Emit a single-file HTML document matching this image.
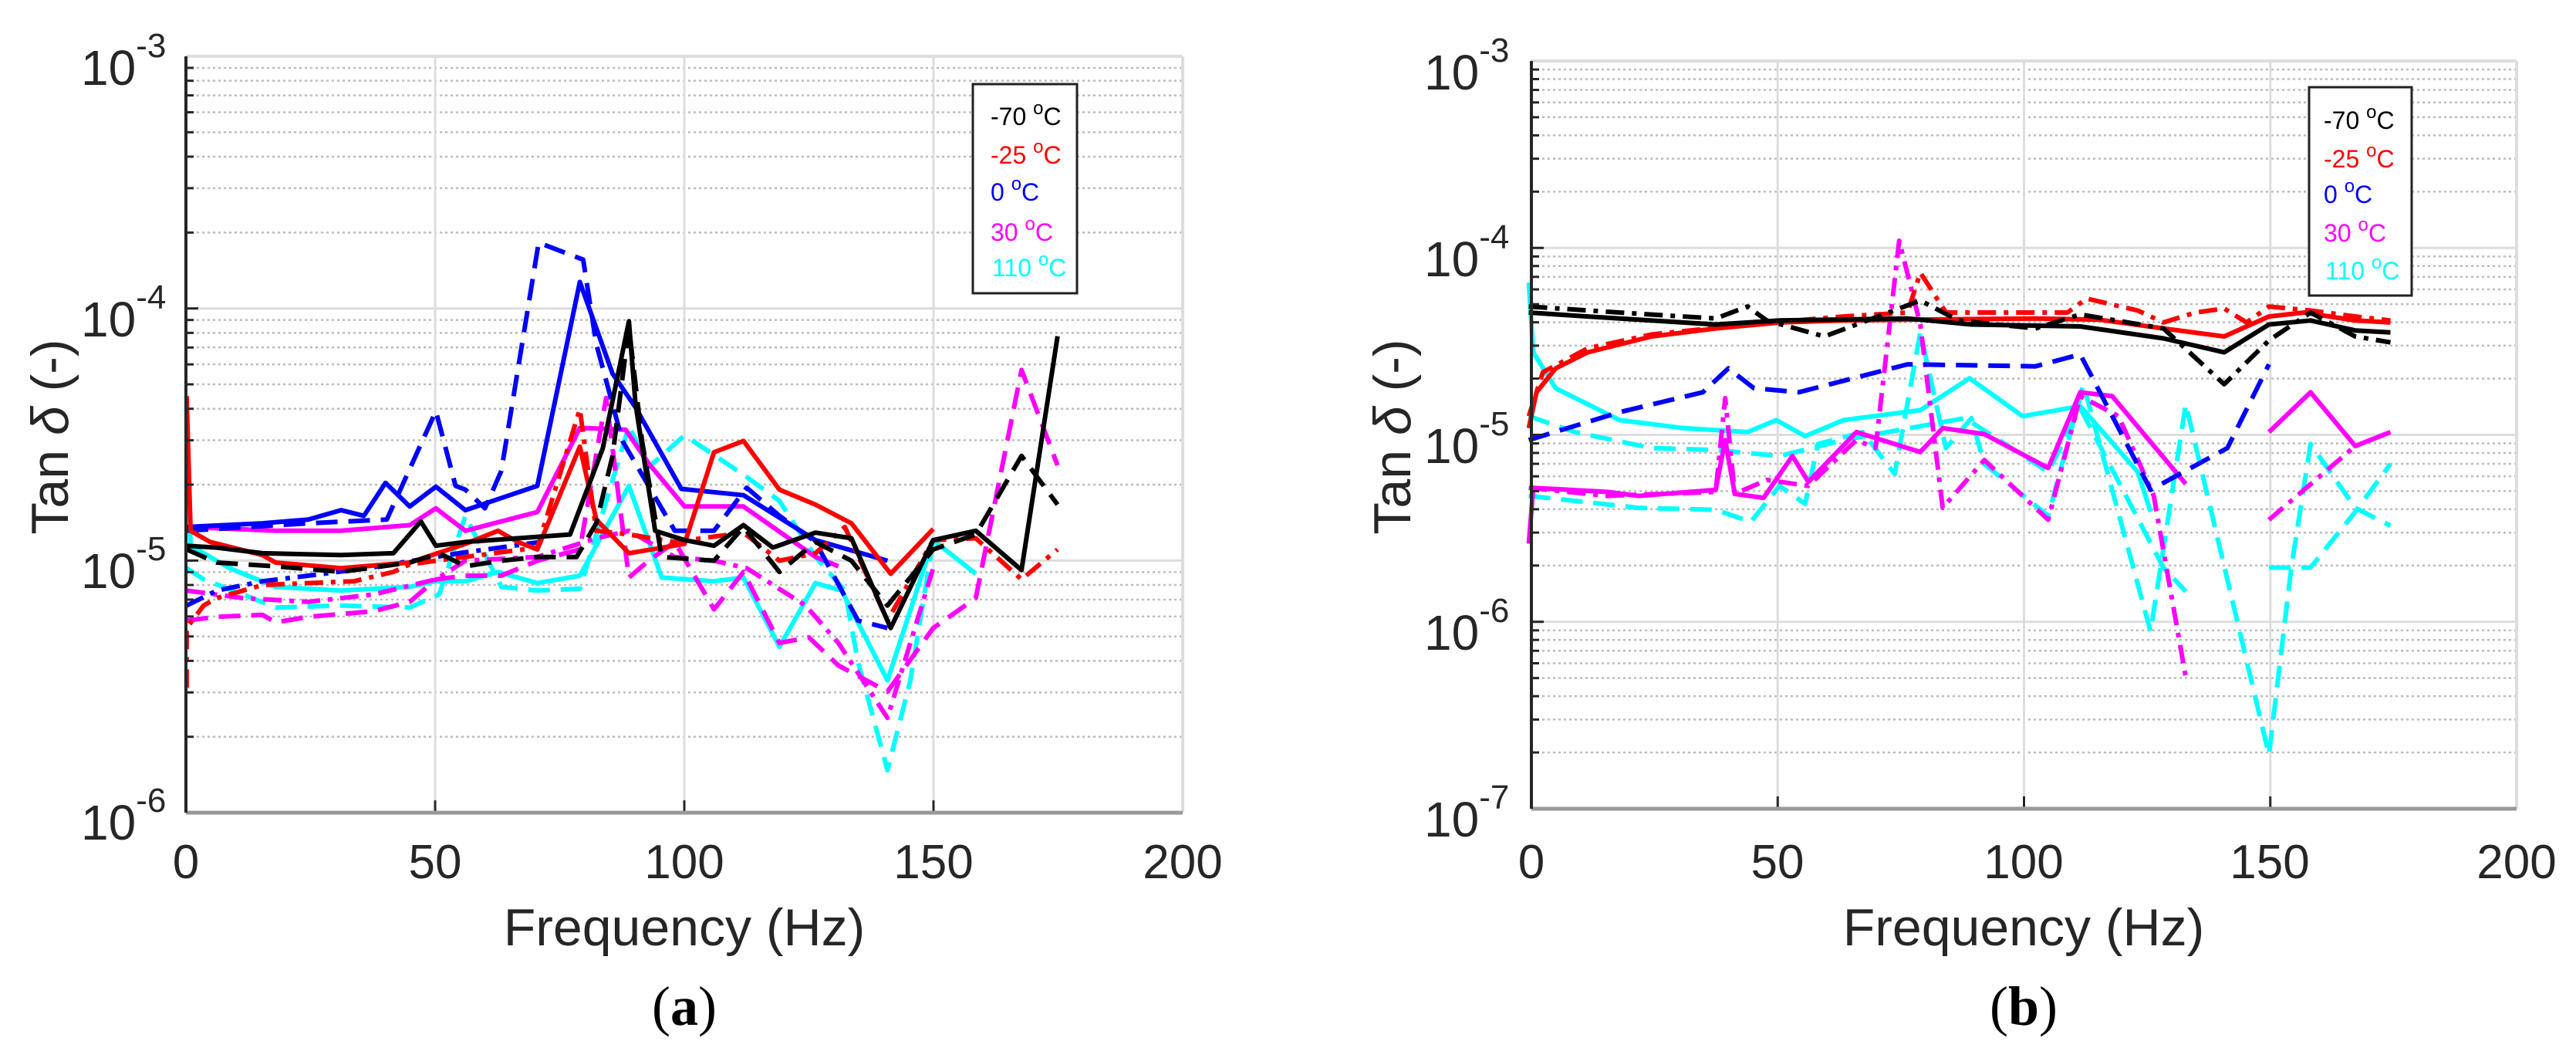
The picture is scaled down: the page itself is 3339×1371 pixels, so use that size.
<!DOCTYPE html>
<html><head><meta charset="utf-8"><style>
html,body{margin:0;padding:0;background:#fff;}
svg{display:block;font-family:"Liberation Sans",sans-serif;}
</style></head><body>
<svg id="s" width="3339" height="1371" viewBox="0 0 3339 1371" xmlns="http://www.w3.org/2000/svg">
<g id="grid"></g>
<g id="lines" fill="none" stroke-width="6" stroke-linejoin="round"></g>
<g id="axes"></g>
<!-- Left legend -->
<rect x="1261" y="109" width="135" height="271" fill="#fff" stroke="#222" stroke-width="3"/>
<g font-size="32">
<text x="1284" y="162" fill="#000">-70 <tspan dy="-14" font-size="24">o</tspan><tspan dy="14">C</tspan></text>
<text x="1284" y="212" fill="#f00">-25 <tspan dy="-14" font-size="24">o</tspan><tspan dy="14">C</tspan></text>
<text x="1284" y="260" fill="#00f">0 <tspan dy="-14" font-size="24">o</tspan><tspan dy="14">C</tspan></text>
<text x="1284" y="312" fill="#f0f">30 <tspan dy="-14" font-size="24">o</tspan><tspan dy="14">C</tspan></text>
<text x="1286" y="358" fill="#0ff">110 <tspan dy="-14" font-size="24">o</tspan><tspan dy="14">C</tspan></text>
</g>
<!-- Right legend -->
<rect x="2993" y="113" width="133" height="270" fill="#fff" stroke="#222" stroke-width="3"/>
<g font-size="32">
<text x="3012" y="167" fill="#000">-70 <tspan dy="-14" font-size="24">o</tspan><tspan dy="14">C</tspan></text>
<text x="3012" y="217" fill="#f00">-25 <tspan dy="-14" font-size="24">o</tspan><tspan dy="14">C</tspan></text>
<text x="3012" y="263" fill="#00f">0 <tspan dy="-14" font-size="24">o</tspan><tspan dy="14">C</tspan></text>
<text x="3012" y="313" fill="#f0f">30 <tspan dy="-14" font-size="24">o</tspan><tspan dy="14">C</tspan></text>
<text x="3014" y="362" fill="#0ff">110 <tspan dy="-14" font-size="24">o</tspan><tspan dy="14">C</tspan></text>
</g>
<!-- Left ticks labels -->
<g font-size="64" fill="#262626">
<text x="105" y="110">10<tspan dy="-36" font-size="44">-3</tspan></text>
<text x="105" y="436">10<tspan dy="-36" font-size="44">-4</tspan></text>
<text x="105" y="762">10<tspan dy="-36" font-size="44">-5</tspan></text>
<text x="105" y="1088">10<tspan dy="-36" font-size="44">-6</tspan></text>
</g>
<g font-size="62" fill="#262626" text-anchor="middle">
<text x="241" y="1138">0</text><text x="564" y="1138">50</text><text x="887" y="1138">100</text><text x="1210" y="1138">150</text><text x="1533" y="1138">200</text>
<text x="2000" y="1138" display="none"></text>
<text x="1985" y="1138">0</text><text x="2304" y="1138">50</text><text x="2623" y="1138">100</text><text x="2942" y="1138">150</text><text x="3262" y="1138">200</text>
</g>
<g font-size="64" fill="#262626">
<text x="1846" y="116">10<tspan dy="-36" font-size="44">-3</tspan></text>
<text x="1846" y="358">10<tspan dy="-36" font-size="44">-4</tspan></text>
<text x="1846" y="600">10<tspan dy="-36" font-size="44">-5</tspan></text>
<text x="1846" y="842">10<tspan dy="-36" font-size="44">-6</tspan></text>
<text x="1846" y="1084">10<tspan dy="-36" font-size="44">-7</tspan></text>
</g>
<g font-size="68" fill="#262626" text-anchor="middle">
<text x="887" y="1225">Frequency (Hz)</text>
<text x="2623" y="1225">Frequency (Hz)</text>
<text transform="translate(88,566) rotate(-90)">Tan <tspan font-style="italic">δ</tspan> (-)</text>
<text transform="translate(1828,566) rotate(-90)">Tan <tspan font-style="italic">δ</tspan> (-)</text>
</g>
<g font-family="Liberation Serif,serif" font-size="72" fill="#000" text-anchor="middle">
<text x="887" y="1328">(<tspan font-weight="bold">a</tspan>)</text>
<text x="2623" y="1328">(<tspan font-weight="bold">b</tspan>)</text>
</g>
</svg>
<script>
var NS="http://www.w3.org/2000/svg";
function el(p,t,a){var e=document.createElementNS(NS,t);for(var k in a)e.setAttribute(k,a[k]);p.appendChild(e);return e;}
var grid=document.getElementById('grid'),axes=document.getElementById('axes'),lines=document.getElementById('lines');
function panel(x0,x1,yTop,dec,nd,ft){
  for(var d=0;d<nd;d++){
    var yb=yTop+(d+1)*dec;
    for(var m=2;m<=9;m++){var y=yb-Math.log10(m)*dec;
      el(grid,'line',{x1:x0,x2:x1,y1:y,y2:y,stroke:'#bbb','stroke-width':2.5,'stroke-dasharray':'3 4'});
      el(axes,'line',{x1:x0,x2:x0+10,y1:y,y2:y,stroke:'#262626','stroke-width':3});}
  }
  for(var d=0;d<=nd;d++){var y=yTop+d*dec;
    el(grid,'line',{x1:x0,x2:x1,y1:y,y2:y,stroke:'#ddd','stroke-width':3});
    el(axes,'line',{x1:x0,x2:x0+16,y1:y,y2:y,stroke:'#262626','stroke-width':3});}
  var yB=yTop+nd*dec;
  for(var i=1;i<4;i++){var x=x0+(x1-x0)*i/4;
    el(grid,'line',{x1:x,x2:x,y1:yTop,y2:yB,stroke:'#ddd','stroke-width':3});
    el(axes,'line',{x1:x,x2:x,y1:yB,y2:yB-16,stroke:'#262626','stroke-width':3});}
  el(axes,'line',{x1:x0,x2:x1,y1:yTop,y2:yTop,stroke:'#ddd','stroke-width':4});
  el(axes,'line',{x1:x1,x2:x1,y1:yTop,y2:yB,stroke:'#ddd','stroke-width':4});
  el(axes,'line',{x1:x0,x2:x1,y1:yB,y2:yB,stroke:'#999','stroke-width':5});
  el(axes,'line',{x1:x0,x2:x0,y1:yTop,y2:yB,stroke:'#262626','stroke-width':4});
}
panel(241,1533,73,326.7,3);
panel(1985,3262,79,242.25,4);
function draw(pts,col,dash,fx,fy){
  var d='';for(var i=0;i<pts.length;i++){d+=(i?'L':'M')+fx(pts[i][0]).toFixed(1)+' '+fy(pts[i][1]).toFixed(1);}
  var a={d:d,stroke:col};if(dash)a['stroke-dasharray']=dash;el(lines,'path',a);
}
var LX=function(z){return 230+z/1.179},LY=function(z){return 300+z/2.063};
var RX=function(z){return 1975+z/1.206},RY=function(z){return 250+z/1.936};
var D1='28 14',D2='24 10 6 10';
var L=[
['#0ff','',[[14,500],[20,840],[80,900],[150,950],[250,960],[355,950],[395,935],[440,935],[490,910],[550,940],[615,920],[690,680],[740,925],[820,935],[865,925],[920,1110],[975,940],[1015,960],[1085,1200],[1155,825],[1220,915]]],
['#0ff',D1,[[14,900],[40,930],[100,970],[150,1005],[250,1000],[355,1005],[400,970],[440,760],[495,950],[550,960],[615,955],[690,520],[720,630],[775,545],[865,650],[920,720],[975,870],[1020,960],[1040,1150],[1085,1440],[1120,1200],[1155,825]]],
['#f0f','',[[14,790],[150,800],[250,800],[355,785],[395,740],[440,800],[550,750],[615,525],[685,530],[720,620],[775,735],[865,735],[975,870],[1010,895]]],
['#f0f',D1,[[14,1040],[60,1030],[130,1025],[150,1045],[200,1030],[300,1015],[355,990],[395,930],[440,920],[495,920],[550,880],[615,850],[655,445],[690,925],[720,880],[760,830],[820,1010],[865,910],[920,1100],[965,1085],[1010,1160],[1085,1230],[1155,1060],[1220,980],[1290,370],[1345,625]]],
['#f0f',D2,[[14,960],[100,980],[200,990],[300,970],[395,930],[440,880],[550,870],[640,820],[690,800],[760,870],[820,880],[870,900],[960,1000],[1010,1100],[1085,1300],[1155,900]]],
['#00f','',[[14,790],[130,780],[200,770],[250,745],[285,760],[318,672],[355,735],[395,682],[440,745],[550,680],[615,135],[665,380],[700,470],[770,688],[865,705],[975,825],[1085,880]]],
['#00f',D1,[[14,800],[200,780],[320,770],[395,480],[425,680],[440,690],[470,740],[495,640],[552,30],[620,75],[640,300],[680,560],[760,800],[820,800],[870,685],[920,760],[975,830],[1040,1040],[1085,1060]]],
['#00f',D2,[[14,1000],[60,960],[130,935],[200,920],[290,900],[360,880],[430,860],[555,830]]],
['#f00','',[[14,440],[20,800],[50,830],[130,865],[150,885],[250,900],[355,885],[440,835],[490,800],[520,830],[550,850],[615,575],[640,770],[690,860],[775,835],[820,590],[865,560],[920,690],[975,730],[1030,780],[1090,915],[1155,795]]],
['#f00',D2,[[14,1220],[14,1060],[40,1000],[60,980],[130,945],[200,940],[270,935],[330,910],[355,890],[395,880],[440,870],[550,845],[615,475],[640,800],[690,810],[760,830],[865,805],[920,880],[975,860],[1020,790],[1085,1040],[1155,825],[1220,820],[1290,930],[1345,850]]],
['#000','',[[14,840],[60,845],[130,860],[250,865],[330,860],[372,775],[395,840],[440,830],[520,820],[600,810],[650,580],[690,240],[700,460],[730,800],[775,825],[820,840],[865,785],[910,845],[975,805],[1030,820],[1090,1060],[1155,825],[1220,800],[1290,905],[1345,280]]],
['#000',D1,[[14,850],[60,885],[150,895],[250,910],[355,885],[400,860],[440,895],[495,880],[550,870],[610,870],[640,780],[665,600],[690,255],[710,560],[740,870],[820,880],[865,790],[920,910],[975,830],[1030,880],[1085,1000],[1155,850],[1220,810],[1290,600],[1345,730]]]
];
L.forEach(function(s){draw(s[2],s[0],s[1],LX,LY);});
var R=[
['#0ff',D1,[[8,760],[180,790],[300,795],[355,825],[400,735],[440,780],[460,630],[530,600],[580,705],[620,350],[660,640],[700,565],[720,680],[820,810],[875,480],[980,1100],[1035,530],[1165,1410],[1200,940],[1230,630],[1300,790],[1355,835]]],
['#0ff',D1,[[8,560],[80,600],[200,640],[300,645],[400,660],[500,620],[690,565],[820,700],[870,540],[1000,940],[1035,1000]]],
['#0ff',D1,[[1165,940],[1230,940],[1300,800],[1355,680]]],
['#0ff','',[[8,225],[15,400],[50,490],[150,570],[250,590],[350,600],[395,570],[440,610],[500,570],[620,545],[697,465],[780,560],[870,535],[960,700],[980,800]]],
['#f0f','',[[8,880],[15,740],[130,750],[180,760],[300,745],[315,620],[330,755],[375,765],[420,660],[445,725],[520,600],[620,650],[655,590],[720,605],[820,690],[870,500],[920,510],[1035,730]]],
['#f0f','',[[1165,600],[1230,500],[1300,635],[1355,600]]],
['#f0f',D2,[[8,740],[130,760],[300,750],[315,515],[330,755],[380,720],[445,735],[520,620],[550,640],[587,120],[620,330],[655,790],[720,670],[820,820],[870,510],[930,560],[985,760],[1035,1215]]],
['#f0f',D2,[[1165,820],[1300,635],[1355,600]]],
['#00f',D1,[[8,620],[150,550],[280,500],[320,440],[360,490],[430,500],[600,430],[800,435],[870,405],[980,745],[1100,640],[1165,430]]],
['#f00','',[[8,590],[20,500],[50,440],[100,400],[200,360],[300,340],[400,325],[500,320],[600,318],[800,315],[900,318],[1000,340],[1095,360],[1165,310],[1220,300],[1300,320],[1355,325]]],
['#f00',D2,[[8,560],[30,450],[100,390],[200,355],[350,330],[500,310],[600,300],[620,200],[640,250],[660,300],[850,300],[880,265],[960,295],[1000,325],[1050,300],[1095,290],[1130,325],[1165,285],[1230,295],[1300,310],[1355,320]]],
['#000','',[[8,300],[100,310],[300,330],[400,320],[600,315],[700,330],[870,335],[1000,365],[1095,400],[1165,330],[1230,320],[1300,345],[1355,350]]],
['#000',D2,[[8,285],[150,300],[300,315],[350,285],[380,320],[470,360],[520,330],[620,270],[680,320],[800,340],[870,305],[1000,340],[1095,480],[1165,370],[1230,300],[1300,360],[1355,375]]]
];
R.forEach(function(s){draw(s[2],s[0],s[1],RX,RY);});
</script>
</body></html>
